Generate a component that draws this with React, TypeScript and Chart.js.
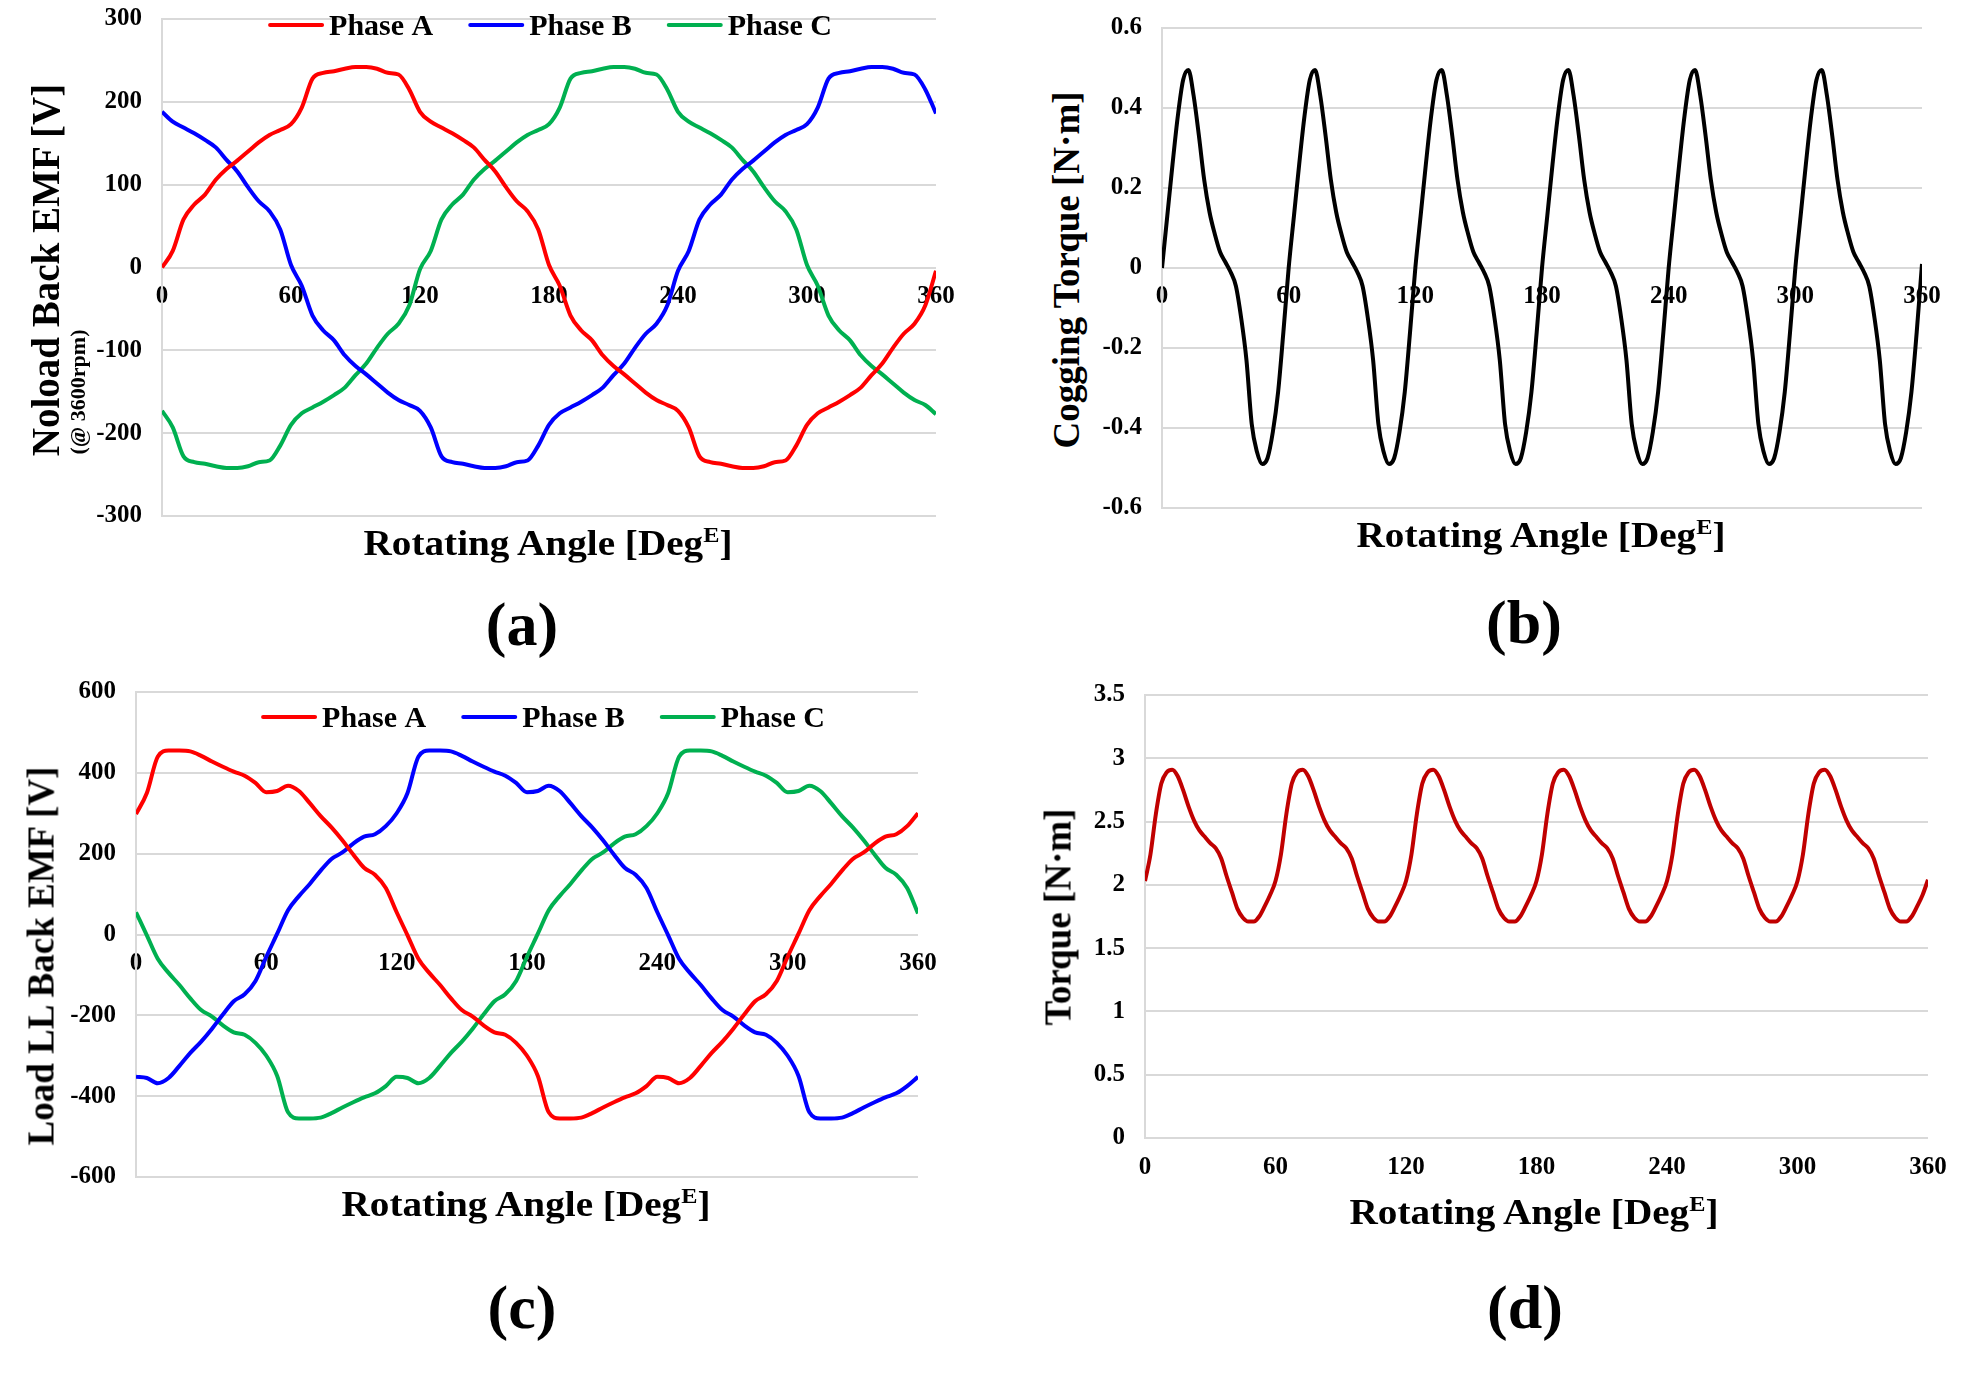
import React, { useEffect, useRef } from 'react';
import { Chart, registerables } from 'chart.js';

Chart.register(...registerables);

const FONT = "'Liberation Serif', 'Times New Roman', serif";

// ---------- categories ----------
const ANGLES_5 = [0, 5, 10, 15, 20, 25, 30, 35, 40, 45, 50, 55, 60, 65, 70, 75, 80, 85, 90, 95, 100, 105, 110, 115, 120, 125, 130, 135, 140, 145, 150, 155, 160, 165, 170, 175, 180, 185, 190, 195, 200, 205, 210, 215, 220, 225, 230, 235, 240, 245, 250, 255, 260, 265, 270, 275, 280, 285, 290, 295, 300, 305, 310, 315, 320, 325, 330, 335, 340, 345, 350, 355, 360];

const ANGLES_2_5 = [
  0, 2.5, 5, 7.5, 10, 12.5, 15, 17.5, 20, 22.5, 25, 27.5, 30, 32.5, 35, 37.5, 40, 42.5, 45, 47.5, 50, 52.5, 55, 57.5,
  60, 62.5, 65, 67.5, 70, 72.5, 75, 77.5, 80, 82.5, 85, 87.5, 90, 92.5, 95, 97.5, 100, 102.5, 105, 107.5, 110, 112.5, 115, 117.5,
  120, 122.5, 125, 127.5, 130, 132.5, 135, 137.5, 140, 142.5, 145, 147.5, 150, 152.5, 155, 157.5, 160, 162.5, 165, 167.5, 170, 172.5, 175, 177.5,
  180, 182.5, 185, 187.5, 190, 192.5, 195, 197.5, 200, 202.5, 205, 207.5, 210, 212.5, 215, 217.5, 220, 222.5, 225, 227.5, 230, 232.5, 235, 237.5,
  240, 242.5, 245, 247.5, 250, 252.5, 255, 257.5, 260, 262.5, 265, 267.5, 270, 272.5, 275, 277.5, 280, 282.5, 285, 287.5, 290, 292.5, 295, 297.5,
  300, 302.5, 305, 307.5, 310, 312.5, 315, 317.5, 320, 322.5, 325, 327.5, 330, 332.5, 335, 337.5, 340, 342.5, 345, 347.5, 350, 352.5, 355, 357.5,
  360,
];

// ---------- (a) no-load back EMF [V] ----------
const NOLOAD_A = [0, 20, 58, 76, 88, 106, 119, 129, 140, 151, 160, 166, 173, 193, 228, 235, 237, 240, 242, 242, 240, 235, 233, 215, 188, 176, 169, 162, 154, 145, 130, 116, 97, 80, 68, 46, 3, -22, -58, -76, -88, -106, -119, -129, -140, -151, -160, -166, -173, -193, -228, -235, -237, -240, -242, -242, -240, -235, -233, -215, -190, -176, -169, -162, -154, -145, -130, -116, -97, -80, -68, -46, -4];
const NOLOAD_B = [188, 176, 169, 162, 154, 145, 130, 116, 97, 80, 68, 46, 3, -22, -58, -76, -88, -106, -119, -129, -140, -151, -160, -166, -173, -193, -228, -235, -237, -240, -242, -242, -240, -235, -233, -215, -190, -176, -169, -162, -154, -145, -130, -116, -97, -80, -68, -46, -4, 20, 58, 76, 88, 106, 119, 129, 140, 151, 160, 166, 173, 193, 228, 235, 237, 240, 242, 242, 240, 235, 233, 215, 186];
const NOLOAD_C = [-173, -193, -228, -235, -237, -240, -242, -242, -240, -235, -233, -215, -190, -176, -169, -162, -154, -145, -130, -116, -97, -80, -68, -46, -2, 20, 58, 76, 88, 106, 119, 129, 140, 151, 160, 166, 173, 193, 228, 235, 237, 240, 242, 242, 240, 235, 233, 215, 188, 176, 169, 162, 154, 145, 130, 116, 97, 80, 68, 46, 3, -22, -58, -76, -88, -106, -119, -129, -140, -151, -160, -166, -177];

// ---------- (b) cogging torque [N·m] ----------
const COGGING = [
  0, 0.13, 0.26, 0.38, 0.47, 0.495, 0.43, 0.33, 0.22, 0.14, 0.085, 0.04, 0.015, -0.01, -0.045, -0.125, -0.23, -0.39, -0.46, -0.49, -0.475, -0.41, -0.31, -0.16,
  0, 0.13, 0.26, 0.38, 0.47, 0.495, 0.43, 0.33, 0.22, 0.14, 0.085, 0.04, 0.015, -0.01, -0.045, -0.125, -0.23, -0.39, -0.46, -0.49, -0.475, -0.41, -0.31, -0.16,
  0, 0.13, 0.26, 0.38, 0.47, 0.495, 0.43, 0.33, 0.22, 0.14, 0.085, 0.04, 0.015, -0.01, -0.045, -0.125, -0.23, -0.39, -0.46, -0.49, -0.475, -0.41, -0.31, -0.16,
  0, 0.13, 0.26, 0.38, 0.47, 0.495, 0.43, 0.33, 0.22, 0.14, 0.085, 0.04, 0.015, -0.01, -0.045, -0.125, -0.23, -0.39, -0.46, -0.49, -0.475, -0.41, -0.31, -0.16,
  0, 0.13, 0.26, 0.38, 0.47, 0.495, 0.43, 0.33, 0.22, 0.14, 0.085, 0.04, 0.015, -0.01, -0.045, -0.125, -0.23, -0.39, -0.46, -0.49, -0.475, -0.41, -0.31, -0.16,
  0, 0.13, 0.26, 0.38, 0.47, 0.495, 0.43, 0.33, 0.22, 0.14, 0.085, 0.04, 0.015, -0.01, -0.045, -0.125, -0.23, -0.39, -0.46, -0.49, -0.475, -0.41, -0.31, -0.16,
  0.01,
];

// ---------- (c) load line-to-line back EMF [V] ----------
const LOAD_A = [298, 350, 440, 455, 455, 453, 442, 428, 415, 403, 393, 375, 352, 355, 368, 355, 325, 293, 265, 233, 198, 165, 148, 115, 55, -2, -60, -95, -125, -158, -187, -203, -225, -242, -248, -268, -300, -350, -440, -455, -455, -453, -442, -428, -415, -403, -393, -375, -352, -355, -368, -355, -325, -293, -265, -233, -198, -165, -148, -115, -55, 2, 60, 95, 125, 158, 187, 203, 225, 242, 248, 268, 300];
const LOAD_B = [-352, -355, -368, -355, -325, -293, -265, -233, -198, -165, -148, -115, -55, 2, 60, 95, 125, 158, 187, 203, 225, 242, 248, 268, 300, 350, 440, 455, 455, 453, 442, 428, 415, 403, 393, 375, 352, 355, 368, 355, 325, 293, 265, 233, 198, 165, 148, 115, 55, -2, -60, -95, -125, -158, -187, -203, -225, -242, -248, -268, -300, -350, -440, -455, -455, -453, -442, -428, -415, -403, -393, -375, -352];
const LOAD_C = [55, -2, -60, -95, -125, -158, -187, -203, -225, -242, -248, -268, -300, -350, -440, -455, -455, -453, -442, -428, -415, -403, -393, -375, -352, -355, -368, -355, -325, -293, -265, -233, -198, -165, -148, -115, -55, 2, 60, 95, 125, 158, 187, 203, 225, 242, 248, 268, 300, 350, 440, 455, 455, 453, 442, 428, 415, 403, 393, 375, 352, 355, 368, 355, 325, 293, 265, 233, 198, 165, 148, 115, 52];

// ---------- (d) load torque [N·m] ----------
const TORQUE = [
  2.03, 2.24, 2.56, 2.8, 2.89, 2.91, 2.86, 2.75, 2.62, 2.51, 2.43, 2.38, 2.33, 2.29, 2.21, 2.07, 1.94, 1.81, 1.74, 1.71, 1.71, 1.75, 1.83, 1.92,
  2.03, 2.24, 2.56, 2.8, 2.89, 2.91, 2.86, 2.75, 2.62, 2.51, 2.43, 2.38, 2.33, 2.29, 2.21, 2.07, 1.94, 1.81, 1.74, 1.71, 1.71, 1.75, 1.83, 1.92,
  2.03, 2.24, 2.56, 2.8, 2.89, 2.91, 2.86, 2.75, 2.62, 2.51, 2.43, 2.38, 2.33, 2.29, 2.21, 2.07, 1.94, 1.81, 1.74, 1.71, 1.71, 1.75, 1.83, 1.92,
  2.03, 2.24, 2.56, 2.8, 2.89, 2.91, 2.86, 2.75, 2.62, 2.51, 2.43, 2.38, 2.33, 2.29, 2.21, 2.07, 1.94, 1.81, 1.74, 1.71, 1.71, 1.75, 1.83, 1.92,
  2.03, 2.24, 2.56, 2.8, 2.89, 2.91, 2.86, 2.75, 2.62, 2.51, 2.43, 2.38, 2.33, 2.29, 2.21, 2.07, 1.94, 1.81, 1.74, 1.71, 1.71, 1.75, 1.83, 1.92,
  2.03, 2.24, 2.56, 2.8, 2.89, 2.91, 2.86, 2.75, 2.62, 2.51, 2.43, 2.38, 2.33, 2.29, 2.21, 2.07, 1.94, 1.81, 1.74, 1.71, 1.71, 1.75, 1.83, 1.92,
  2.04,
];

// ---------- axis ranges / labels ----------
const X_RANGE = [0, 360, 60];
const Y_RANGE_A = [-300, 300, 100];
const Y_RANGE_B = [-0.6, 0.6, 0.2];
const Y_RANGE_C = [-600, 600, 200];
const Y_RANGE_D = [0, 3.5, 0.5];
const PHASE_LABELS = ['Phase A', 'Phase B', 'Phase C'];
const PHASE_COLORS = ['#FF0000', '#0000FF', '#00B050'];

type Series = { label: string; color: string; values: number[] };

const lineLegend = {
  id: 'lineLegend',
  afterDatasetsDraw(chart: any, _args: any, opts: any) {
    if (!opts || !opts.show) return;
    const { ctx, chartArea } = chart;
    ctx.save();
    ctx.font = `bold ${opts.size}px ${FONT}`;
    const items = chart.data.datasets.map((ds: any) => ({
      label: ds.label,
      color: ds.borderColor,
      w: ctx.measureText(ds.label).width,
    }));
    const total =
      items.reduce((s: number, it: any) => s + opts.lineLen + opts.gap + it.w, 0) +
      opts.itemGap * (items.length - 1);
    let x = (chartArea.left + chartArea.right) / 2 + opts.dx - total / 2;
    const y = chartArea.top + opts.dy;
    for (const it of items) {
      ctx.strokeStyle = it.color;
      ctx.lineWidth = 4;
      ctx.lineCap = 'round';
      ctx.beginPath();
      ctx.moveTo(x + 2, y);
      ctx.lineTo(x + opts.lineLen - 2, y);
      ctx.stroke();
      x += opts.lineLen + opts.gap;
      ctx.fillStyle = '#000';
      ctx.textAlign = 'left';
      ctx.textBaseline = 'middle';
      ctx.fillText(it.label, x, y + opts.textDy);
      x += it.w + opts.itemGap;
    }
    ctx.restore();
  },
};

type ChartProps = {
  left: number;
  top: number;
  width: number;
  height: number;
  angles: number[];
  series: Series[];
  yRange: number[];
  yWidth: number;
  pad: { top: number; right: number; bottom: number };
  xPad: number;
  legend?: any;
};

function LineChart(p: ChartProps) {
  const ref = useRef<HTMLCanvasElement>(null);
  useEffect(() => {
    const tickFont = { family: FONT, size: 25, weight: 'bold' as const };
    const chart = new Chart(ref.current as HTMLCanvasElement, {
      type: 'line',
      data: {
        datasets: p.series.map((s) => ({
          label: s.label,
          data: p.angles.map((x, i) => ({ x, y: s.values[i] })),
          borderColor: s.color,
          backgroundColor: s.color,
          borderWidth: 4,
          pointRadius: 0,
          cubicInterpolationMode: 'monotone' as const,
          fill: false,
        })),
      },
      options: {
        responsive: false,
        animation: false,
        devicePixelRatio: 1,
        events: [],
        layout: { padding: { left: 0, top: p.pad.top, right: p.pad.right, bottom: p.pad.bottom } },
        plugins: {
          legend: { display: false },
          tooltip: { enabled: false },
          lineLegend: p.legend || { show: false },
        } as any,
        scales: {
          x: {
            type: 'linear',
            min: X_RANGE[0],
            max: X_RANGE[1],
            position: { y: 0 } as any,
            grid: { display: false, drawTicks: false },
            border: { display: false },
            ticks: {
              stepSize: X_RANGE[2],
              padding: p.xPad,
              color: '#000',
              font: tickFont,
              maxRotation: 0,
              autoSkip: false,
            },
          },
          y: {
            type: 'linear',
            position: 'left',
            min: p.yRange[0],
            max: p.yRange[1],
            afterFit: (s: any) => {
              s.width = p.yWidth;
            },
            grid: { color: '#d9d9d9', lineWidth: 2, drawTicks: false },
            border: { display: true, color: '#d9d9d9', width: 2 },
            ticks: {
              stepSize: p.yRange[2],
              padding: 20,
              color: '#000',
              font: tickFont,
              callback: (v: any) => String(Math.round(Number(v) * 100) / 100),
            },
          },
        },
      },
      plugins: [lineLegend as any],
    });
    return () => chart.destroy();
  }, []);
  return (
    <canvas
      ref={ref}
      width={p.width}
      height={p.height}
      style={{ position: 'absolute', left: p.left, top: p.top, width: p.width, height: p.height }}
    />
  );
}

const textBase: React.CSSProperties = {
  position: 'absolute',
  fontFamily: FONT,
  fontWeight: 'bold',
  color: '#000',
  whiteSpace: 'nowrap',
  lineHeight: 1,
};

function XTitle({ cx, cy }: { cx: number; cy: number }) {
  return (
    <div style={{ ...textBase, left: cx, top: cy, fontSize: 35, transform: 'translate(-50%, -50%) scaleX(1.12)' }}>
      Rotating Angle [Deg
      <span style={{ fontSize: '0.62em', position: 'relative', top: '-0.6em' }}>E</span>]
    </div>
  );
}

function YTitle({ cx, cy, size, text }: { cx: number; cy: number; size: number; text: string }) {
  return (
    <div style={{ ...textBase, left: cx, top: cy, fontSize: size, transform: 'translate(-50%, -50%) rotate(-90deg)' }}>
      {text}
    </div>
  );
}

function Panel({ cx, cy, text }: { cx: number; cy: number; text: string }) {
  return (
    <div style={{ ...textBase, left: cx, top: cy, fontSize: 62, transform: 'translate(-50%, -50%)' }}>{text}</div>
  );
}

const phases = (vals: number[][]): Series[] =>
  PHASE_LABELS.map((label, i) => ({ label, color: PHASE_COLORS[i], values: vals[i] }));

const legendOpts = (dx: number, dy: number) => ({
  show: true,
  size: 30,
  lineLen: 56,
  gap: 5,
  itemGap: 35,
  dx,
  dy,
  textDy: 2,
});

export default function App() {
  return (
    <div
      style={{
        position: 'absolute',
        left: 0,
        top: 0,
        width: 1975,
        height: 1374,
        background: '#fff',
        overflow: 'hidden',
      }}
    >
      {/* (a): plot area 162..936 x 19..516 */}
      <LineChart
        left={60}
        top={-21}
        width={920}
        height={577}
        angles={ANGLES_5}
        series={phases([NOLOAD_A, NOLOAD_B, NOLOAD_C])}
        yRange={Y_RANGE_A}
        yWidth={102}
        pad={{ top: 40, right: 44, bottom: 40 }}
        xPad={14}
        legend={legendOpts(1, 6)}
      />
      <YTitle cx={45} cy={270} size={39} text="Noload Back EMF [V]" />
      <YTitle cx={78} cy={392} size={22} text="(@ 3600rpm)" />
      <XTitle cx={548} cy={543} />
      <Panel cx={522} cy={624} text="(a)" />

      {/* (b): plot area 1162..1922 x 28..508 */}
      <LineChart
        left={1090}
        top={-12}
        width={880}
        height={560}
        angles={ANGLES_2_5}
        series={[{ label: 'Cogging Torque', color: '#000000', values: COGGING }]}
        yRange={Y_RANGE_B}
        yWidth={72}
        pad={{ top: 40, right: 48, bottom: 40 }}
        xPad={14}
      />
      <YTitle cx={1066} cy={270} size={37} text="Cogging Torque [N·m]" />
      <XTitle cx={1541} cy={535} />
      <Panel cx={1524} cy={622} text="(b)" />

      {/* (c): plot area 136..918 x 692..1177 */}
      <LineChart
        left={40}
        top={652}
        width={930}
        height={565}
        angles={ANGLES_5}
        series={phases([LOAD_A, LOAD_B, LOAD_C])}
        yRange={Y_RANGE_C}
        yWidth={96}
        pad={{ top: 40, right: 52, bottom: 40 }}
        xPad={14}
        legend={legendOpts(16, 25)}
      />
      <YTitle cx={41} cy={956} size={37} text="Load LL Back EMF [V]" />
      <XTitle cx={526} cy={1204} />
      <Panel cx={522} cy={1307} text="(c)" />

      {/* (d): plot area 1145..1928 x 695..1138 */}
      <LineChart
        left={1070}
        top={655}
        width={900}
        height={545}
        angles={ANGLES_2_5}
        series={[{ label: 'Torque', color: '#C00000', values: TORQUE }]}
        yRange={Y_RANGE_D}
        yWidth={75}
        pad={{ top: 40, right: 42, bottom: 62 }}
        xPad={15}
      />
      <YTitle cx={1058} cy={917} size={37} text="Torque [N·m]" />
      <XTitle cx={1534} cy={1212} />
      <Panel cx={1525} cy={1307} text="(d)" />
    </div>
  );
}
